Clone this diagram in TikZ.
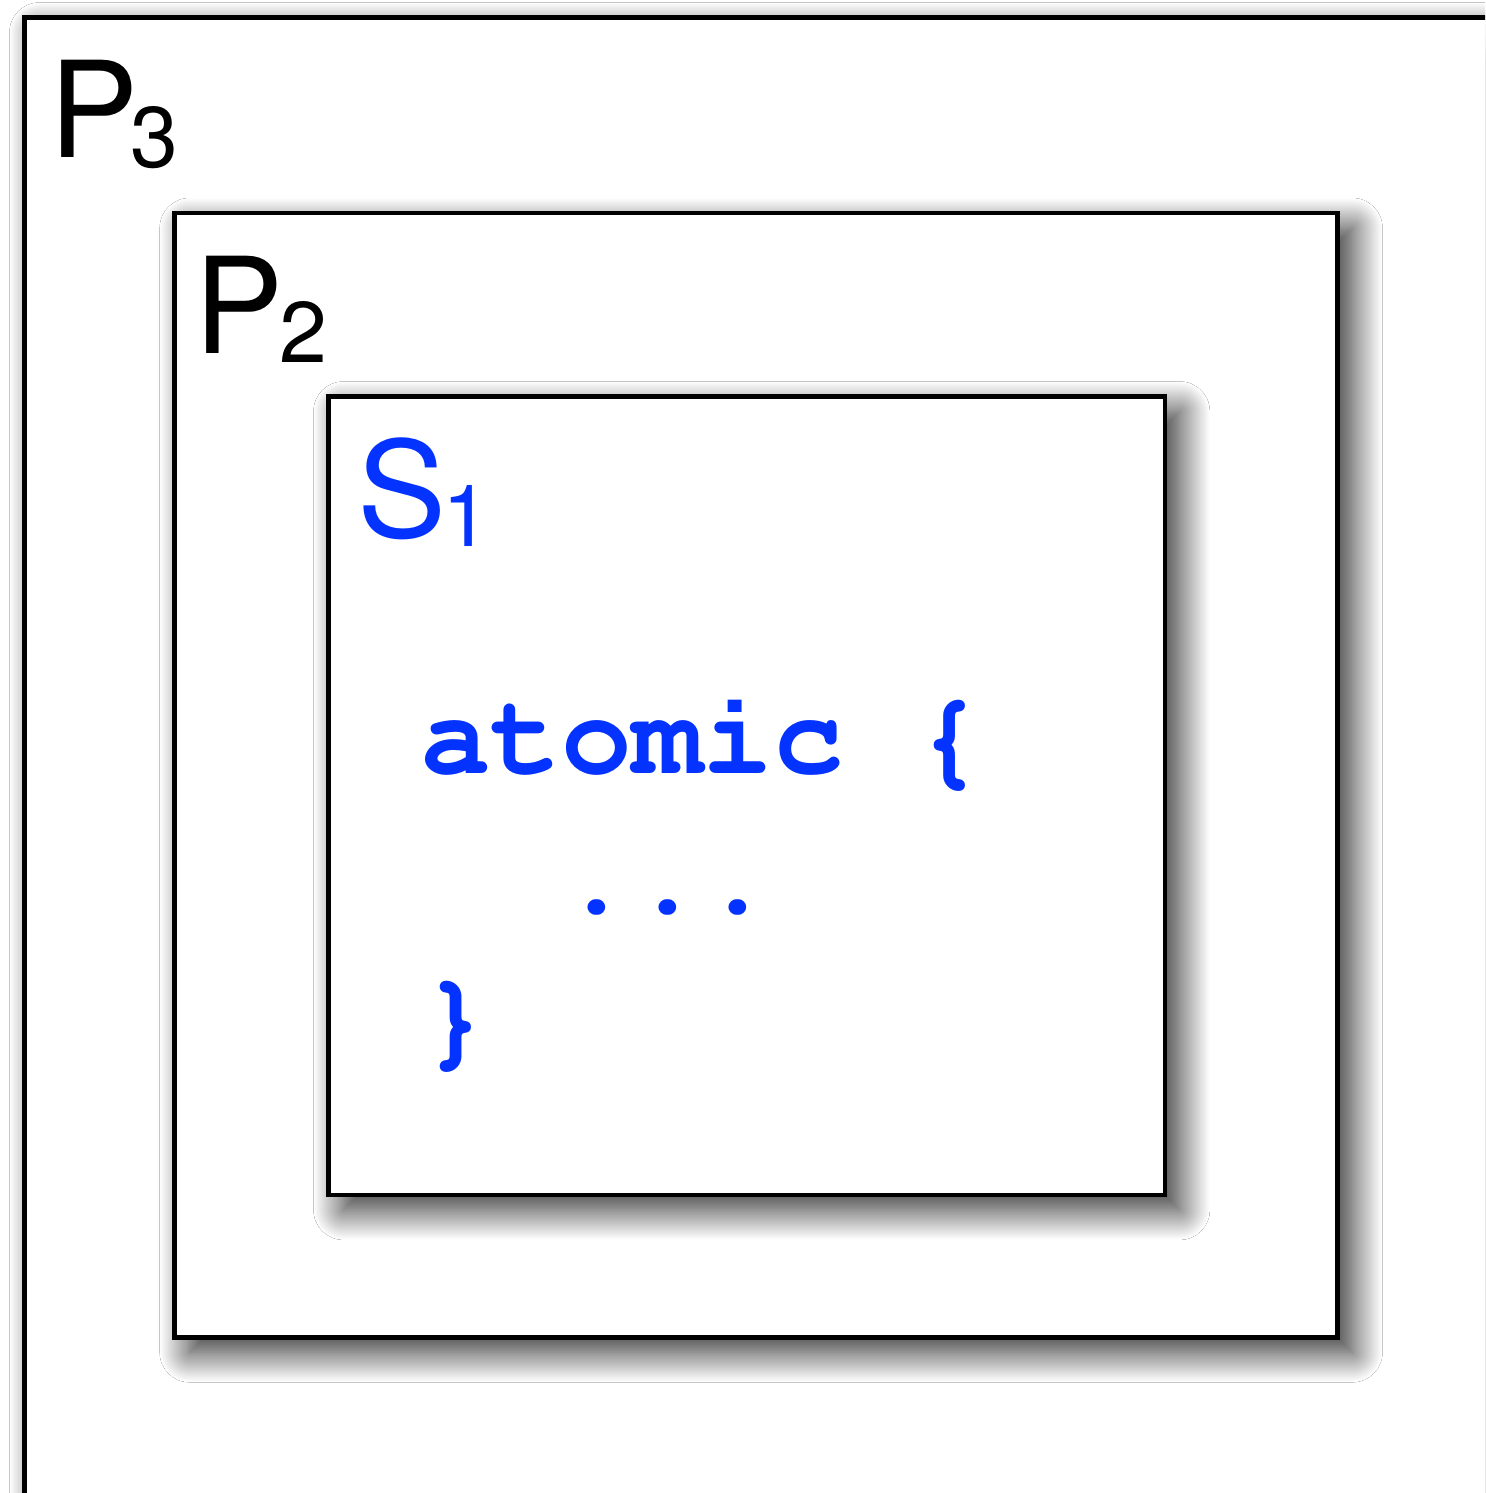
\documentclass[tikz,border=0pt]{standalone}
\usepackage[T1]{fontenc}
\usepackage{fontspec}
\usetikzlibrary{shadows.blur}
\newfontfamily\labelfont{TeX Gyre Heros}
\newcommand{\courierfont}{\fontencoding{T1}\fontfamily{pcr}\fontseries{b}\selectfont}
\definecolor{codeblue}{RGB}{4,51,255}
% big letter with a lowered index
\newcommand{\boxlabel}[3]{{\labelfont\fontsize{76}{76}\selectfont #1\kern#3\raisebox{-5.3pt}{\fontsize{49}{49}\selectfont #2}}}
\tikzset{
  scopebox/.style={draw, line width=0.09cm, fill=white, rectangle, inner sep=0pt, outer sep=0pt, anchor=north west,
    blur shadow={shadow xshift=0.3cm, shadow yshift=-0.3cm, shadow blur radius=0.6cm, shadow opacity=85, shadow blur steps=40}},
  boxtitle/.style={anchor=base west, inner sep=0pt},
  codeline/.style={anchor=base west, inner sep=0pt, text=codeblue, font=\courierfont\fontsize{67}{67}\selectfont}
}
\begin{document}
\begin{tikzpicture}[x=0.02cm, y=-0.02cm]
\useasboundingbox (0,0) rectangle (1485,1493);
\fill[white] (0,0) rectangle (1485,1493);
\clip (0,0) rectangle (1485,1493);
% nested scopes
\node[scopebox, minimum width=34cm, minimum height=34cm] (p3) at (24.5,17.5) {};
\node[scopebox, minimum width=23.26cm, minimum height=22.49cm] (p2) at (174.7,213) {};
\node[scopebox, minimum width=16.73cm, minimum height=15.97cm] (s1) at (328.5,396.5) {};
% titles
\node[boxtitle] (p3title) at (49,158) {\boxlabel{P}{3}{-4.5pt}};
\node[boxtitle] (p2title) at (194,353) {\boxlabel{P}{2}{-2.5pt}};
\node[boxtitle, text=codeblue] (s1title) at (357,537) {\boxlabel{S}{1}{-2pt}};
% code
\node[codeline] (codeopen) at (420,773) {atomic \{};
\node[codeline] (codebody) at (420,913) {\phantom{aa}...};
\node[codeline] (codeclose) at (420,1054) {\}};
\end{tikzpicture}
\end{document}
